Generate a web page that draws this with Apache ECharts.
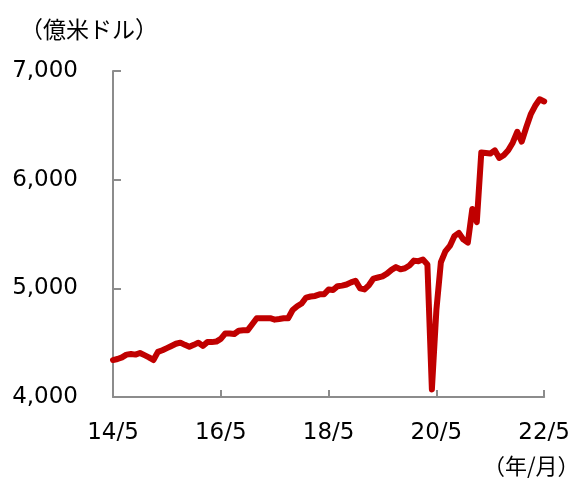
<!DOCTYPE html>
<html><head><meta charset="utf-8">
<script src="https://cdn.jsdelivr.net/npm/echarts@6/dist/echarts.min.js"></script>
<style>html,body{margin:0;padding:0;background:#fff}#c{width:573px;height:478px}</style>
</head><body><div id="c"></div>
<script>
// Monthly series, 2014/5 .. 2022/5 (億米ドル)
const startYear = 14, startMonth = 5, monthCount = 97;
const values = [
 4340,4350,4365,4390,4395,4390,4405,4385,4365,4340,
 4415,4430,4450,4470,4490,4500,4480,4462,4480,4500,
 4470,4505,4505,4510,4535,4585,4585,4580,4610,4615,
 4615,4670,4725,4725,4725,4725,4712,4718,4725,4725,
 4800,4835,4860,4915,4925,4930,4945,4945,4990,4985,
 5020,5025,5035,5055,5070,5000,4990,5030,5090,5100,
 5110,5135,5170,5195,5175,5185,5210,5255,5250,5265,
 5220,4070,4800,5240,5340,5390,5480,5510,5450,5420,
 5730,5610,6250,6245,6240,6270,6200,6225,6270,6340,
 6440,6350,6480,6600,6680,6740,6720
];
const categories = [];
for (let i = 0; i < monthCount; i++) {
  const m = (startMonth - 1 + i);
  categories.push((startYear + Math.floor(m / 12)) + '/' + (m % 12 + 1));
}
const yTicks = [4000, 5000, 6000, 7000];
const yUnit = '（億米ドル）';
const xUnit = '（年/月）';

const chart = echarts.init(document.getElementById('c'));
const axisColor = '#8c8c8c';
const labelFont = 'DejaVu Sans, Verdana, sans-serif';
chart.setOption({
  animation: false,
  grid: { left: 113, right: 27, top: 71, bottom: 81, containLabel: false },
  xAxis: {
    type: 'category', data: categories, boundaryGap: false,
    axisLine: { lineStyle: { color: axisColor, width: 2 } },
    axisTick: { inside: true, length: 7, interval: 23, lineStyle: { color: axisColor, width: 2 } },
    axisLabel: { interval: 23, margin: 25, color: '#000', fontSize: 23, fontFamily: labelFont },
    splitLine: { show: false }
  },
  yAxis: {
    type: 'value', min: yTicks[0], max: yTicks[yTicks.length - 1], interval: 1000,
    axisLine: { show: true, lineStyle: { color: axisColor, width: 2 } },
    axisTick: { show: true, inside: true, length: 8, lineStyle: { color: axisColor, width: 2 } },
    axisLabel: { margin: 35, color: '#000', fontSize: 23, fontFamily: labelFont,
      formatter: v => v.toLocaleString('en-US') },
    splitLine: { show: false }
  },
  series: [{
    type: 'line', data: values, symbol: 'none', smooth: false,
    lineStyle: { color: '#c00000', width: 6, join: 'round', cap: 'round' }
  }],
  graphic: [
    { type: 'text', left: 20, top: 18, style: { text: yUnit, fontSize: 23, fill: '#000',
      fontFamily: 'Noto Sans CJK JP, sans-serif' } },
    { type: 'text', left: 483, top: 455, style: { text: xUnit, fontSize: 22, fill: '#000',
      fontFamily: 'Noto Sans CJK JP, sans-serif' } }
  ]
});
</script></body></html>
